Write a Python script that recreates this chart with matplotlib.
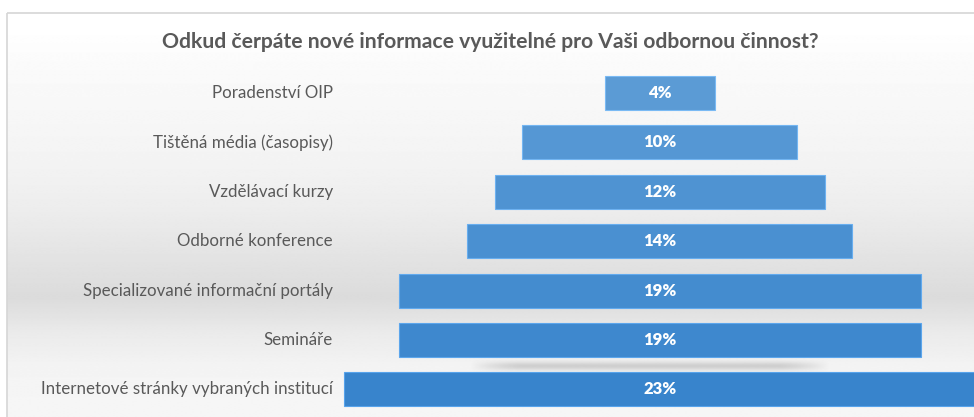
import numpy as np
import matplotlib
matplotlib.use("Agg")
import matplotlib.pyplot as plt
from matplotlib.patches import Rectangle

plt.rcParams['font.family'] = ['Lato', 'DejaVu Sans']

# data
kategorie = ["Poradenství OIP", "Tištěná média (časopisy)", "Vzdělávací kurzy",
             "Odborné konference", "Specializované informační portály",
             "Semináře", "Internetové stránky vybraných institucí"]
podil = [4, 10, 12, 14, 19, 19, 23]
popisky = ["4%", "10%", "12%", "14%", "19%", "19%", "23%"]
titulek = "Odkud čerpáte nové informace využitelné pro Vaši odbornou činnost?"

W, H = 974, 417
fig = plt.figure(figsize=(W / 100, H / 100), dpi=100)

# pozadi s prechodem (pixelove souradnice)
bg = fig.add_axes([0, 0, 1, 1], zorder=0)
bg.set_xlim(0, W)
bg.set_ylim(H, 0)
bg.axis("off")
yy = np.arange(H)
g = np.interp(yy, [13, 60, 150, 200, 293, 330, 365, 417],
              [1.0, 0.98, 0.955, 0.93, 0.86, 0.92, 0.955, 0.965])
grad = np.repeat(g[:, None], 2, axis=1)
bg.imshow(grad, cmap="gray", vmin=0, vmax=1, extent=(7, W + 5, H, 13),
          aspect="auto", interpolation="bilinear")
bg.add_patch(Rectangle((7, 13), W, H, fill=False, edgecolor="#d6d6d6", lw=1.2))

# stin nad spodnim pruhem
sx = np.linspace(-1, 1, 200)
sy = np.linspace(-1, 1, 30)
X, Y = np.meshgrid(sx, sy)
a = np.clip(1.4 - np.abs(X) ** 4 * 1.4, 0, 1) * np.exp(-(Y * 2.2) ** 2) * 0.35
shadow = np.zeros((30, 200, 4))
shadow[..., :3] = 0.55
shadow[..., 3] = a
bg.imshow(shadow, extent=(470, 830, 376, 356), aspect="auto",
          interpolation="bilinear")

# hlavni osy v procentech, stred nalevky v nule
ax = fig.add_axes([0, 0, 1, 1], zorder=1)
ax.patch.set_alpha(0)
cx, px_pct = 660, 27.5
y0, dy = 93, 49.4
ax.set_xlim(-cx / px_pct, (W - cx) / px_pct)
ax.set_ylim((H - y0) / dy, -y0 / dy)
ax.axis("off")

top_c = np.array([91, 155, 213]) / 255
bot_c = np.array([56, 132, 204]) / 255
n = len(podil)
for i, (k, v, p) in enumerate(zip(kategorie, podil, popisky)):
    c = top_c + (bot_c - top_c) * i / (n - 1)
    ax.barh(i, v, left=-v / 2, height=0.69, color=c,
            edgecolor=np.clip(c + 0.12, 0, 1), linewidth=0.8)
    ax.text(0, i, p, ha="center", va="center", color="white",
            fontsize=12, fontweight="heavy")
    ax.text((333 - cx) / px_pct, i, k, ha="right", va="center",
            color="#595959", fontsize=12.2)

fig.text(490 / W, 1 - 42 / H, titulek, ha="center", va="center",
         fontsize=15.2, fontweight="bold", color="#595959")

fig.savefig("out.png", dpi=100)
